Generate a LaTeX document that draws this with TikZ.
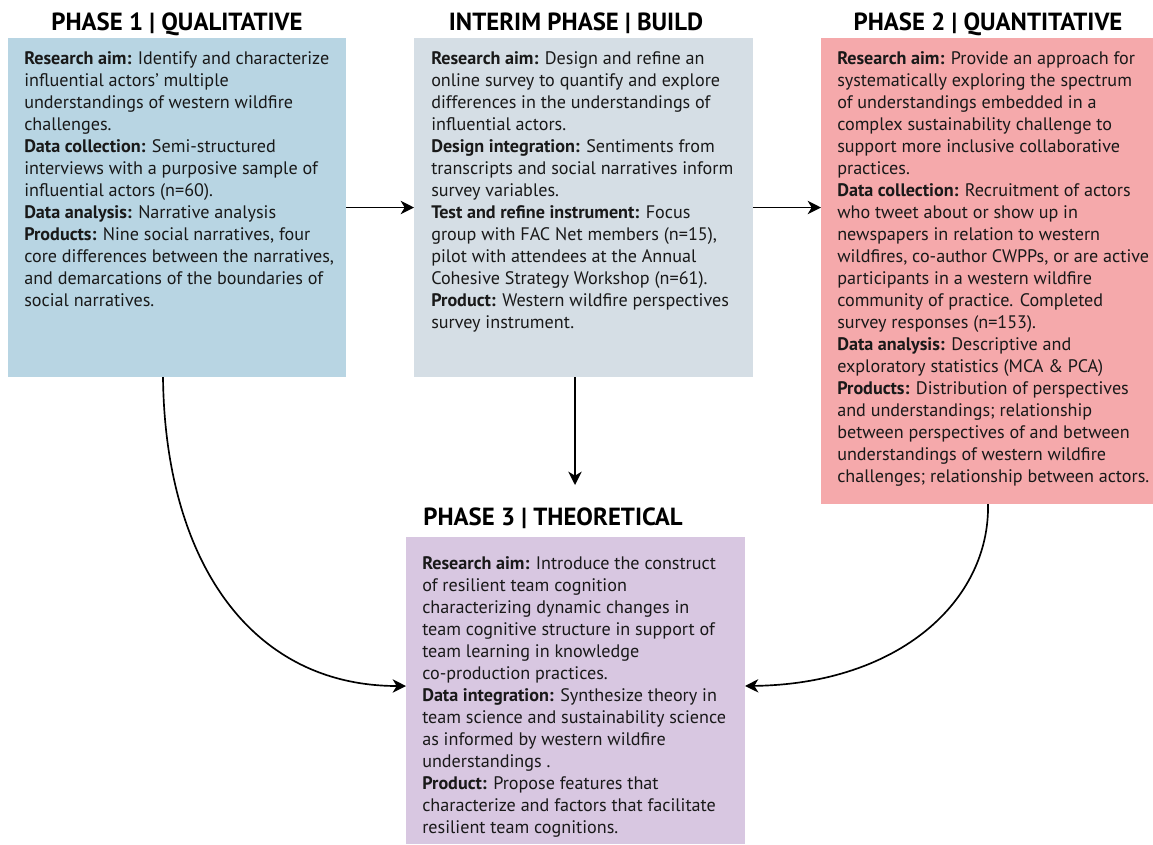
\documentclass[tikz,border=0pt]{standalone}
\usepackage{fontspec}
\setmainfont{PT Sans}
\usetikzlibrary{arrows.meta}
\definecolor{qualblue}{HTML}{B8D5E3}
\definecolor{buildgray}{HTML}{D5DEE5}
\definecolor{quantpink}{HTML}{F5A9AB}
\definecolor{theolilac}{HTML}{D8C7E1}
\begin{document}
\begin{tikzpicture}[x=0.75pt,y=-0.75pt,
  panel/.style={draw=none, inner sep=0pt, outer sep=0pt, anchor=north west},
  body/.style={anchor=north west, inner sep=0pt, align=left, text=black!90,
    font=\fontsize{13.6}{16.5}\selectfont},
  heading/.style={anchor=base, inner sep=0pt, font=\fontsize{18.6}{21}\selectfont\bfseries},
  flow/.style={-{Stealth[length=10pt,width=10pt,inset=3pt]}, line width=1.25pt}]
\useasboundingbox (0,0) rectangle (1153,844);

% coloured panels
\node[panel, fill=qualblue,  minimum width=253.5pt,  minimum height=254.25pt] (b1) at (8,38) {};
\node[panel, fill=buildgray, minimum width=254.25pt, minimum height=254.25pt] (b2) at (414,38) {};
\node[panel, fill=quantpink, minimum width=249pt,    minimum height=349.5pt] (b3) at (821,38) {};
\node[panel, fill=theolilac, minimum width=254.25pt, minimum height=230.25pt] (b4) at (406,537) {};

% headings
\node[heading] (h1) at (177,30) {PHASE 1 | QUALITATIVE};
\node[heading] (h2) at (576,30) {INTERIM PHASE | BUILD};
\node[heading] (h3) at (988,30) {PHASE 2 | QUANTITATIVE};
\node[heading] (h4) at (553,525) {PHASE 3 | THEORETICAL};

% panel texts
\node[body] (t1) at (24,51) {%
\textbf{Research aim:} Identify and characterize\\
influential actors’ multiple\\
understandings of western wildfire\\
challenges.\\
\textbf{Data collection:} Semi-structured\\
interviews with a purposive sample of\\
influential actors (n=60).\\
\textbf{Data analysis:} Narrative analysis\\
\textbf{Products:} Nine social narratives, four\\
core differences between the narratives,\\
and demarcations of the boundaries of\\
social narratives.};

\node[body] (t2) at (431,51) {%
\textbf{Research aim:} Design and refine an\\
online survey to quantify and explore\\
differences in the understandings of\\
influential actors.\\
\textbf{Design integration:} Sentiments from\\
transcripts and social narratives inform\\
survey variables.\\
\textbf{Test and refine instrument:} Focus\\
group with FAC Net members (n=15),\\
pilot with attendees at the Annual\\
Cohesive Strategy Workshop (n=61).\\
\textbf{Product:} Western wildfire perspectives\\
survey instrument.};

\node[body] (t3) at (837,51) {%
\textbf{Research aim:} Provide an approach for\\
systematically exploring the spectrum\\
of understandings embedded in a\\
complex sustainability challenge to\\
support more inclusive collaborative\\
practices.\\
\textbf{Data collection:} Recruitment of actors\\
who tweet about or show up in\\
newspapers in relation to western\\
wildfires, co-author CWPPs, or are active\\
participants in a western wildfire\\
community of practice. Completed\\
survey responses (n=153).\\
\textbf{Data analysis:} Descriptive and\\
exploratory statistics (MCA \& PCA)\\
\textbf{Products:} Distribution of perspectives\\
and understandings; relationship\\
between perspectives of and between\\
understandings of western wildfire\\
challenges; relationship between actors.};

\node[body] (t4) at (422,556) {%
\textbf{Research aim:} Introduce the construct\\
of resilient team cognition\\
characterizing dynamic changes in\\
team cognitive structure in support of\\
team learning in knowledge\\
co-production practices.\\
\textbf{Data integration:} Synthesize theory in\\
team science and sustainability science\\
as informed by western wildfire\\
understandings .\\
\textbf{Product:} Propose features that\\
characterize and factors that facilitate\\
resilient team cognitions.};

% connector ends
\coordinate (b1out) at (163,377);
\coordinate (b2out) at (575,377);
\coordinate (b2end) at (575,485);
\coordinate (b3out) at (988,504);
\coordinate (b4in)  at (406,686);
\coordinate (b4inr) at (745,686);

% connectors
\draw[flow] (b1.east) -- (b2.west);
\draw[flow] (b2.east) -- (b2.east -| b3.west);
\draw[flow] (b2out) -- (b2end);
\draw[flow] (b1out) .. controls (165,560) and (250,686) .. (b4in);
\draw[flow] (b3out) .. controls (990,600) and (900,684) .. (b4inr);
\end{tikzpicture}
\end{document}
